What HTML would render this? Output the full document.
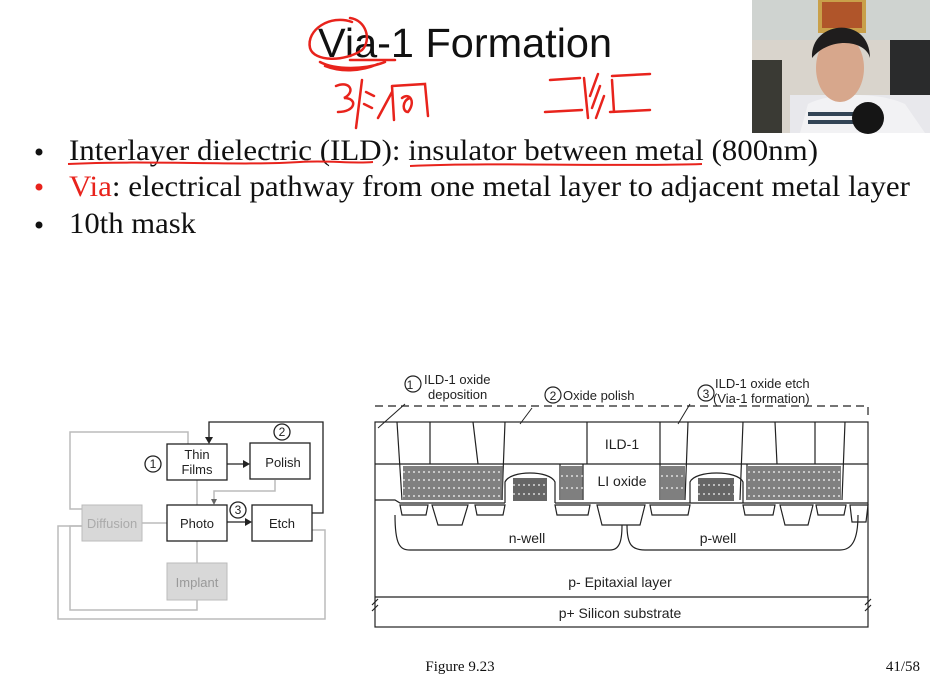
<!DOCTYPE html>
<html><head><meta charset="utf-8"><style>
html,body{margin:0;padding:0;background:#fff;}
svg{display:block;}
.t{font-family:"Liberation Sans",Arial,sans-serif;}
.s{font-family:"Liberation Serif","Times New Roman",serif;}
</style></head><body>
<svg width="930" height="696" viewBox="0 0 930 696" xmlns="http://www.w3.org/2000/svg">
<rect width="930" height="696" fill="#fff"/>
<!-- title -->
<text x="318" y="57" textLength="294" lengthAdjust="spacingAndGlyphs" class="t" font-size="41" fill="#111">Via-1 Formation</text>
<!-- red annotations -->
<g fill="none" stroke="#e8231c" stroke-width="2.5" stroke-linecap="round">
<path d="M352 22 C330 14 306 30 310 48 C314 62 345 62 362 50 C372 40 366 20 350 18"/>
<path d="M320 62 C335 70 365 70 385 62 M325 66 C340 72 360 72 378 64 M350 60 L395 60"/>
<path d="M336 86 C350 80 356 92 344 98 C358 98 356 112 338 112 M362 80 L356 128"/>
<path d="M366 92 L374 96 M364 104 L372 108 M378 118 L392 92 M392 86 L394 120 M392 86 L425 84 L428 116 M402 98 C410 92 416 102 408 112 C402 112 402 100 410 98"/>
<path d="M550 80 L580 78 M545 112 L582 110 M584 78 L588 118 M598 74 L590 96 M600 86 L592 108 M604 96 L596 118 M612 76 L650 74 M612 80 L614 112 M610 112 L650 110"/>
</g>
<!-- webcam -->
<rect x="752" y="0" width="178" height="133" fill="#d9d4cc"/>
<rect x="752" y="0" width="178" height="40" fill="#cfd3d0"/>
<rect x="818" y="0" width="48" height="33" fill="#c9a04a"/>
<rect x="822" y="2" width="40" height="26" fill="#b0552a"/>
<rect x="752" y="60" width="30" height="73" fill="#3a3a34"/>
<rect x="890" y="40" width="40" height="70" fill="#2a2b2c"/>
<rect x="790" y="95" width="140" height="38" fill="#e8e8ec"/>
<path d="M800 133 L808 104 C830 92 880 92 905 104 L925 133 Z" fill="#f2f2f4"/>
<rect x="808" y="112" width="50" height="4" fill="#345"/>
<rect x="808" y="120" width="52" height="4" fill="#345"/>
<ellipse cx="840" cy="68" rx="24" ry="34" fill="#d7a78c"/>
<path d="M812 58 C810 20 870 15 870 58 C866 40 830 36 812 58 Z" fill="#1f1d1d"/>
<circle cx="868" cy="118" r="16" fill="#151515"/>
<!-- bullets -->
<g class="s" font-size="30" fill="#111">
<circle cx="39" cy="152" r="3.5" fill="#111"/>
<text x="69" y="160" textLength="749" lengthAdjust="spacingAndGlyphs">Interlayer dielectric (ILD): insulator between metal (800nm)</text>
<circle cx="39" cy="187" r="3.5" fill="#e8231c"/>
<text x="69" y="196" textLength="841" lengthAdjust="spacingAndGlyphs"><tspan fill="#e8231c">Via</tspan>: electrical pathway from one metal layer to adjacent metal layer</text>
<circle cx="39" cy="225" r="3.5" fill="#111"/>
<text x="69" y="233" textLength="127" lengthAdjust="spacingAndGlyphs">10th mask</text>
</g>
<g fill="none" stroke="#e8231c" stroke-width="2">
<path d="M68 164 C150 160 240 166 300 162 C330 160 350 164 373 162"/>
<path d="M410 166 C500 162 620 167 702 164"/>
</g>
<!-- flow chart -->
<g fill="none" stroke="#bbb" stroke-width="1.5">
<path d="M82 509 L70 509 L70 432 L188 432 L188 444"/>
<path d="M197 480 L197 505"/>
<path d="M275 480 L275 491 L214 491 L214 503"/>
<path d="M142 523 L167 523"/>
<path d="M197 541 L197 563"/>
<path d="M197 600 L197 610 L70 610 L70 526 L82 526"/>
<path d="M82 526 L58 526 L58 619 L325 619 L325 530 L312 530"/>
</g>
<g class="t" font-size="13" text-anchor="middle">
<rect x="82" y="505" width="60" height="36" fill="#d8d8d8" stroke="#bbb"/>
<text x="112" y="528" fill="#aaa">Diffusion</text>
<rect x="167" y="563" width="60" height="37" fill="#d8d8d8" stroke="#bbb"/>
<text x="197" y="587" fill="#999">Implant</text>
<g fill="#fff" stroke="#222" stroke-width="1.3">
<rect x="167" y="444" width="60" height="36"/>
<rect x="250" y="443" width="60" height="36"/>
<rect x="167" y="505" width="60" height="36"/>
<rect x="252" y="505" width="60" height="36"/>
</g>
<g fill="#222">
<text x="197" y="459">Thin</text><text x="197" y="474">Films</text>
<text x="283" y="467">Polish</text>
<text x="197" y="528">Photo</text>
<text x="282" y="528">Etch</text>
</g>
<g fill="none" stroke="#222" stroke-width="1.3">
<path d="M227 464 L246 464"/><path d="M227 522 L248 522"/>
<path d="M312 513 L323 513 L323 422 L209 422 L209 440"/>
<circle cx="153" cy="464" r="8"/><circle cx="282" cy="432" r="8"/><circle cx="238" cy="510" r="8"/>
</g>
<g fill="#222"><path d="M250 464 L243 460 L243 468Z"/><path d="M252 522 L245 518 L245 526Z"/><path d="M209 444 L205 437 L213 437Z"/><path d="M214 505 L211 499 L217 499Z" fill="#666"/></g>
<g fill="#222" font-size="12"><text x="153" y="468">1</text><text x="282" y="436">2</text><text x="238" y="514">3</text></g>
</g>
<!-- cross section -->
<g fill="none" stroke="#222" stroke-width="1.2">
<path d="M375 406 L868 406 L868 416" stroke-dasharray="8,5"/>
<rect x="375" y="422" width="493" height="205"/>
<line x1="375" y1="464" x2="868" y2="464"/>
<line x1="375" y1="597" x2="868" y2="597"/>
<path d="M375 500 L395 500 L400 503 L505 503 M555 503 L600 503 L868 503"/>
<path d="M395 515 C395 545 400 550 410 550 L610 550 C620 550 622 540 622 525"/>
<path d="M627 525 C627 545 632 550 645 550 L840 550 C852 550 858 540 858 515"/>
<path d="M397 422 L402 500 M430 422 L430 464 M473 422 L478 464 M505 422 L502 500 M587 422 L587 464 M660 422 L660 500 M688 422 L685 500 M743 422 L740 500 M775 422 L777 464 M815 422 L815 464 M845 422 L842 500"/>
<path d="M560 464 L560 500 M583 464 L583 500 M747 464 L747 500"/>
<path d="M505 503 L505 482 C510 470 550 470 555 482 L555 503"/>
<path d="M690 503 L690 482 C695 470 738 470 743 482 L743 503"/>
<path d="M432 505 L438 525 L462 525 L468 505 Z M597 505 L602 525 L640 525 L645 505 Z M780 505 L785 525 L808 525 L813 505 Z M850 505 L852 522 L866 522 L868 505 Z"/>
<path d="M400 505 L428 505 L426 515 L402 515 Z M475 505 L505 505 L503 515 L477 515 Z M555 505 L590 505 L588 515 L557 515 Z M650 505 L690 505 L688 515 L652 515 Z M743 505 L775 505 L773 515 L745 515 Z M816 505 L846 505 L844 515 L818 515 Z"/>
<path d="M372 605 L378 599 M372 611 L378 605 M865 605 L871 599 M865 611 L871 605"/>
<path d="M378 428 L405 404 M532 408 L520 424 M690 404 L678 424" stroke-width="1"/>
<circle cx="413" cy="384" r="8"/><circle cx="553" cy="395" r="8"/><circle cx="706" cy="393" r="8"/>
</g>
<g fill="#555" opacity="0.75">
<rect x="403" y="466" width="100" height="34"/>
<rect x="561" y="466" width="22" height="34"/>
<rect x="661" y="466" width="24" height="34"/>
<rect x="748" y="466" width="93" height="34"/>
<rect x="513" y="478" width="34" height="23" fill="#333"/>
<rect x="698" y="478" width="36" height="23" fill="#333"/>
</g>
<g stroke="#fff" stroke-width="1.2" stroke-dasharray="2,3" opacity="0.9">
<path d="M403 472 L503 472 M403 480 L503 480 M403 488 L503 488 M403 496 L503 496 M748 472 L841 472 M748 480 L841 480 M748 488 L841 488 M748 496 L841 496 M561 476 L583 476 M561 488 L583 488 M661 476 L685 476 M661 488 L685 488 M513 485 L547 485 M513 494 L547 494 M698 485 L734 485 M698 494 L734 494"/>
</g>
<g class="t" font-size="14" fill="#222" text-anchor="middle">
<text x="622" y="449">ILD-1</text>
<text x="622" y="486">LI oxide</text>
<text x="527" y="543">n-well</text>
<text x="718" y="543">p-well</text>
<text x="620" y="587">p- Epitaxial layer</text>
<text x="620" y="618">p+ Silicon substrate</text>
</g>
<g class="t" font-size="13" fill="#222">
<text x="410" y="389" font-size="12" text-anchor="middle">1</text>
<text x="553" y="400" font-size="12" text-anchor="middle">2</text>
<text x="706" y="398" font-size="12" text-anchor="middle">3</text>
<text x="424" y="384">ILD-1 oxide</text><text x="428" y="399">deposition</text>
<text x="563" y="400">Oxide polish</text>
<text x="715" y="388">ILD-1 oxide etch</text><text x="713" y="403">(Via-1 formation)</text>
</g>
<!-- footer -->
<text x="460" y="671" text-anchor="middle" class="s" font-size="15" fill="#111">Figure 9.23</text>
<text x="920" y="671" text-anchor="end" class="s" font-size="15" fill="#111">41/58</text>
</svg>
</body></html>
